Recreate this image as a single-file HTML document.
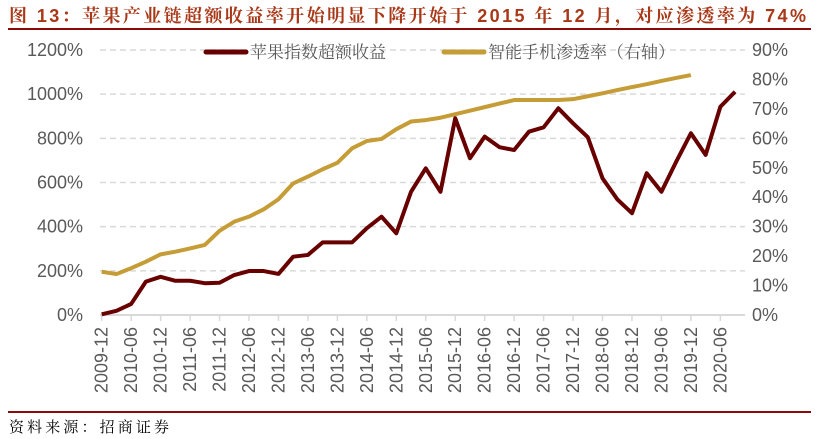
<!DOCTYPE html>
<html><head><meta charset="utf-8"><style>
body{margin:0;background:#fff;width:819px;height:439px;overflow:hidden;position:relative;font-family:"Liberation Sans","Noto Sans CJK SC",sans-serif}
</style></head><body>
<div style="position:absolute;left:8px;top:28px;width:803px;height:2px;background:#8b0a0a"></div>
<div style="position:absolute;left:8px;top:411px;width:803px;height:2px;background:#8b0a0a"></div>
<svg id="chart" width="819" height="439" style="position:absolute;left:0;top:0">
<text x="9" y="22" font-size="18" font-weight="bold" fill="#a83818" textLength="797" lengthAdjust="spacing" font-family='"Liberation Sans","Noto Serif CJK SC",serif'>图 13：苹果产业链超额收益率开始明显下降开始于 2015 年 12 月，对应渗透率为 74%</text>
<text x="9" y="432" font-size="15" fill="#000" textLength="160" lengthAdjust="spacing" font-family='"Liberation Serif","Noto Serif CJK SC",serif'>资料来源：招商证券</text>
</svg>
<script>
const excess=[3,19,50,151,173,155,155,144,146,181,199,199,186,264,272,329,329,329,393,445,370,558,664,558,891,710,808,760,747,830,850,936,868,805,619,524,461,642,558,694,823,725,943,1011];
const penetration=[14.7,13.9,15.9,18.1,20.6,21.5,22.6,23.8,28.6,31.7,33.4,35.9,39.3,44.7,47,49.5,51.7,56.6,59.1,59.8,63.1,65.7,66.2,67,68.2,69.4,70.6,71.8,73,73,73,73,73.3,74.3,75.3,76.4,77.4,78.4,79.5,80.5,81.5];
const leftTicks=[0,200,400,600,800,1000,1200];
const rightTicks=[0,10,20,30,40,50,60,70,80,90];
const xLabels=["2009-12","2010-06","2010-12","2011-06","2011-12","2012-06","2012-12","2013-06","2013-12","2014-06","2014-12","2015-06","2015-12","2016-06","2016-12","2017-06","2017-12","2018-06","2018-12","2019-06","2019-12","2020-06"];
const svg=document.getElementById('chart');const NS='http://www.w3.org/2000/svg';
const x0=101.7,dq=14.73,yB=315,yT=50;
const X=i=>x0+i*dq;
const YL=v=>yB-(v/1200)*(yB-yT);
const YR=v=>yB-(v/90)*(yB-yT);
function mk(t,a){const e=document.createElementNS(NS,t);for(const k in a)e.setAttribute(k,a[k]);svg.appendChild(e);return e;}
leftTicks.forEach(v=>{
 if(v>0){const g=mk('line',{x1:100,x2:745,y1:YL(v),y2:YL(v),stroke:'#d9d9d9','stroke-width':1.5,'stroke-dasharray':'6,4'});
 
 }
 const t=mk('text',{x:83,y:YL(v)+6,'text-anchor':'end','font-size':18,fill:'#595959'});t.textContent=v+'%';
 
 
});
rightTicks.forEach(v=>{
 const t=mk('text',{x:752,y:YR(v)+6,'font-size':18,fill:'#595959'});t.textContent=v+'%';
 
 
});
const ax=mk('line',{x1:100,x2:745,y1:yB,y2:yB,stroke:'#d9d9d9','stroke-width':2});


xLabels.forEach((l,i)=>{
 const x=X(i*2);
 mk('line',{x1:x,x2:x,y1:yB,y2:yB+6,stroke:'#d9d9d9','stroke-width':1.5});
 const t=mk('text',{x:0,y:0,'font-size':18,fill:'#595959','text-anchor':'end',transform:`translate(${x+6},${yB+12}) rotate(-90)`});t.textContent=l;
 
 
});
const p1=mk('polyline',{points:penetration.map((v,i)=>X(i)+','+YR(v)).join(' '),fill:'none',stroke:'#c59c35','stroke-width':4,'stroke-linejoin':'round'});


const p2=mk('polyline',{points:excess.map((v,i)=>X(i)+','+YL(v)).join(' '),fill:'none',stroke:'#680000','stroke-width':4,'stroke-linejoin':'round'});


const l1=mk('line',{x1:206,x2:246,y1:52,y2:52,stroke:'#680000','stroke-width':5,'stroke-linecap':'round'});


const t1=mk('text',{x:250,y:58,'font-size':17,fill:'#595959','font-family':'"Liberation Serif","Noto Serif CJK SC",serif'});t1.textContent='苹果指数超额收益';


const l2=mk('line',{x1:444,x2:484,y1:52,y2:52,stroke:'#c59c35','stroke-width':5,'stroke-linecap':'round'});


const t2=mk('text',{x:488,y:58,'font-size':17,fill:'#595959','font-family':'"Liberation Serif","Noto Serif CJK SC",serif'});t2.textContent='智能手机渗透率（右轴）';


</script>
</body></html>
